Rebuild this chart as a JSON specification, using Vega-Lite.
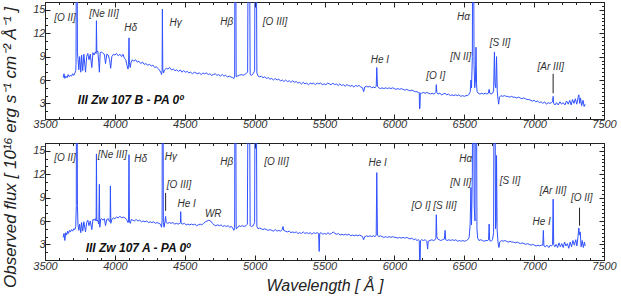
{
 "$schema": "https://vega.github.io/schema/vega-lite/v6.json",
 "background": "white",
 "padding": {"left": 2, "top": 1, "right": 0, "bottom": 0},
 "title": {"text": "Observed flux [ 10¹⁶ erg s⁻¹ cm⁻² Å⁻¹ ]", "orient": "left", "anchor": "middle", "font": "Liberation Sans", "fontStyle": "italic", "fontWeight": "normal", "fontSize": 17, "color": "#222", "offset": 12},
 "spacing": 10,
 "datasets": {
  "specB": [
   {"w":3630,"f":6.3},{"w":3636,"f":6.8},{"w":3642,"f":6.2},{"w":3650,"f":6.5},{"w":3658,"f":6.3},{"w":3666,"f":6.7},{"w":3674,"f":6.4},{"w":3682,"f":6.6},{"w":3690,"f":6.5},{"w":3698,"f":6.8},{"w":3706,"f":6.6},{"w":3714,"f":6.9},{"w":3720,"f":7.2},{"w":3722,"f":8},{"w":3725,"f":30},{"w":3729,"f":30},{"w":3732,"f":9.5},
   {"w":3736,"f":8.8},{"w":3742,"f":7.3},{"w":3748,"f":9.0},{"w":3756,"f":7.0},{"w":3762,"f":9.2},{"w":3770,"f":7.2},{"w":3778,"f":9.3},{"w":3790,"f":7.0},{"w":3798,"f":9.0},{"w":3806,"f":9.4},{"w":3815,"f":8.6},{"w":3824,"f":9.3},{"w":3835,"f":7.6},{"w":3843,"f":9.5},{"w":3852,"f":9.2},{"w":3860,"f":9.6},{"w":3866,"f":9.4},{"w":3868,"f":13.6},{"w":3871,"f":9.6},{"w":3878,"f":9.7},{"w":3885,"f":8.2},{"w":3889,"f":7.0},{"w":3895,"f":9.5},{"w":3905,"f":9.6},{"w":3915,"f":9.4},{"w":3925,"f":9.3},{"w":3933,"f":8.1},{"w":3942,"f":9.3},{"w":3952,"f":9.2},{"w":3962,"f":8.6},{"w":3970,"f":7.5},{"w":3978,"f":9.0},{"w":3990,"f":9.3},{"w":4000,"f":9.2},{"w":4012,"f":9.4},{"w":4024,"f":9.1},{"w":4036,"f":9.3},{"w":4048,"f":9.0},{"w":4058,"f":9.3},{"w":4068,"f":8.8},{"w":4078,"f":8.6},{"w":4088,"f":7.8},{"w":4094,"f":7.4},{"w":4098,"f":8.0},{"w":4101,"f":11.4},{"w":4104,"f":8.2},{"w":4110,"f":7.6},{"w":4116,"f":8.3},{"w":4125,"f":8.6},{"w":4135,"f":8.4},{"w":4148,"f":8.6},{"w":4160,"f":8.3},{"w":4172,"f":8.4},{"w":4185,"f":8.1},{"w":4198,"f":8.3},{"w":4210,"f":8.0},{"w":4222,"f":8.1},{"w":4235,"f":7.9},{"w":4248,"f":8.0},{"w":4260,"f":7.8},{"w":4272,"f":7.9},{"w":4285,"f":7.6},{"w":4296,"f":7.7},{"w":4308,"f":7.5},{"w":4318,"f":7.3},{"w":4328,"f":7.0},{"w":4334,"f":6.7},{"w":4338,"f":7.2},{"w":4340,"f":15.1},{"w":4343,"f":7.4},{"w":4348,"f":6.9},{"w":4356,"f":7.3},{"w":4368,"f":7.5},{"w":4380,"f":7.4},{"w":4392,"f":7.6},{"w":4405,"f":7.3},{"w":4418,"f":7.4},{"w":4430,"f":7.2},{"w":4442,"f":7.3},{"w":4455,"f":7.1},{"w":4468,"f":7.3},{"w":4480,"f":7.0},{"w":4492,"f":7.2},{"w":4505,"f":7.0},{"w":4518,"f":7.1},{"w":4530,"f":6.9},{"w":4542,"f":7.0},{"w":4555,"f":6.8},{"w":4568,"f":7.0},{"w":4580,"f":6.9},{"w":4592,"f":6.8},{"w":4605,"f":6.9},{"w":4618,"f":6.7},{"w":4630,"f":6.9},{"w":4642,"f":6.8},{"w":4655,"f":6.9},{"w":4668,"f":6.7},{"w":4680,"f":6.8},{"w":4692,"f":6.6},{"w":4705,"f":6.7},{"w":4718,"f":6.8},{"w":4730,"f":6.6},{"w":4742,"f":6.7},{"w":4755,"f":6.5},{"w":4768,"f":6.7},{"w":4780,"f":6.5},{"w":4792,"f":6.6},{"w":4805,"f":6.4},{"w":4818,"f":6.5},{"w":4830,"f":6.4},{"w":4842,"f":6.3},{"w":4852,"f":6.2},{"w":4857,"f":6.5},{"w":4860,"f":30},{"w":4864,"f":30},{"w":4868,"f":6.4},{"w":4876,"f":6.5},{"w":4890,"f":6.6},{"w":4905,"f":6.7},{"w":4918,"f":6.6},{"w":4930,"f":6.7},{"w":4942,"f":6.9},{"w":4950,"f":7.0},{"w":4955,"f":30},{"w":4962,"f":30},{"w":4968,"f":6.7},{"w":4978,"f":6.6},{"w":4990,"f":6.8},{"w":5000,"f":7.2},{"w":5004,"f":30},{"w":5011,"f":30},{"w":5016,"f":6.9},{"w":5025,"f":6.5},{"w":5036,"f":6.4},{"w":5048,"f":6.5},{"w":5060,"f":6.3},{"w":5072,"f":6.4},{"w":5085,"f":6.2},{"w":5098,"f":6.3},{"w":5110,"f":6.1},{"w":5122,"f":6.2},{"w":5135,"f":6.0},{"w":5148,"f":6.2},{"w":5160,"f":6.0},{"w":5172,"f":6.1},{"w":5185,"f":5.9},{"w":5198,"f":6.0},{"w":5210,"f":5.8},{"w":5222,"f":6.0},{"w":5235,"f":5.8},{"w":5248,"f":5.9},{"w":5260,"f":5.7},{"w":5272,"f":5.9},{"w":5285,"f":5.7},{"w":5298,"f":5.8},{"w":5310,"f":5.6},{"w":5322,"f":5.7},{"w":5335,"f":5.5},{"w":5348,"f":5.7},{"w":5360,"f":5.5},{"w":5372,"f":5.6},{"w":5385,"f":5.4},{"w":5398,"f":5.6},{"w":5410,"f":5.5},{"w":5422,"f":5.6},{"w":5435,"f":5.4},{"w":5448,"f":5.6},{"w":5460,"f":5.5},{"w":5472,"f":5.6},{"w":5485,"f":5.4},{"w":5498,"f":5.5},{"w":5510,"f":5.4},{"w":5522,"f":5.6},{"w":5535,"f":5.5},{"w":5548,"f":5.4},{"w":5560,"f":5.6},{"w":5572,"f":5.4},{"w":5585,"f":5.5},{"w":5598,"f":5.3},{"w":5610,"f":5.5},{"w":5622,"f":5.3},{"w":5635,"f":5.4},{"w":5648,"f":5.2},{"w":5660,"f":5.4},{"w":5672,"f":5.3},{"w":5685,"f":5.2},{"w":5698,"f":5.3},{"w":5710,"f":5.1},{"w":5722,"f":5.3},{"w":5735,"f":5.2},{"w":5748,"f":5.3},{"w":5760,"f":5.1},{"w":5772,"f":5.0},{"w":5780,"f":4.5},{"w":5788,"f":5.1},{"w":5800,"f":5.2},{"w":5812,"f":5.1},{"w":5825,"f":5.2},{"w":5838,"f":5.0},{"w":5850,"f":5.1},{"w":5862,"f":5.0},{"w":5870,"f":5.2},{"w":5874,"f":7.6},{"w":5879,"f":5.2},{"w":5888,"f":5.0},{"w":5900,"f":4.9},{"w":5912,"f":5.0},{"w":5925,"f":4.9},{"w":5938,"f":5.0},{"w":5950,"f":4.9},{"w":5962,"f":5.0},{"w":5975,"f":4.9},{"w":5988,"f":5.0},{"w":6000,"f":4.9},{"w":6012,"f":4.8},{"w":6025,"f":4.9},{"w":6038,"f":4.8},{"w":6050,"f":4.9},{"w":6062,"f":4.8},{"w":6075,"f":4.7},{"w":6088,"f":4.8},{"w":6100,"f":4.7},{"w":6112,"f":4.6},{"w":6125,"f":4.7},{"w":6138,"f":4.6},{"w":6150,"f":4.5},{"w":6162,"f":4.5},{"w":6172,"f":4.4},{"w":6178,"f":4.4},{"w":6180,"f":2.3},{"w":6183,"f":2.4},{"w":6186,"f":4.3},{"w":6195,"f":4.3},{"w":6208,"f":4.4},{"w":6220,"f":4.3},{"w":6232,"f":4.4},{"w":6245,"f":4.3},{"w":6258,"f":4.2},{"w":6270,"f":4.3},{"w":6282,"f":4.2},{"w":6292,"f":4.3},{"w":6297,"f":4.4},{"w":6300,"f":5.4},{"w":6304,"f":4.4},{"w":6312,"f":4.2},{"w":6325,"f":4.3},{"w":6338,"f":4.1},{"w":6350,"f":4.2},{"w":6362,"f":4.3},{"w":6375,"f":4.1},{"w":6388,"f":4.2},{"w":6400,"f":4.0},{"w":6412,"f":4.1},{"w":6425,"f":4.0},{"w":6438,"f":4.1},{"w":6450,"f":4.0},{"w":6462,"f":4.1},{"w":6475,"f":3.9},{"w":6488,"f":4.0},{"w":6500,"f":3.9},{"w":6512,"f":4.0},{"w":6525,"f":4.0},{"w":6535,"f":4.2},{"w":6543,"f":4.5},{"w":6548,"f":6.0},{"w":6552,"f":5.0},{"w":6558,"f":9},{"w":6561,"f":30},{"w":6566,"f":30},{"w":6570,"f":8},{"w":6575,"f":5.0},{"w":6580,"f":6},{"w":6584,"f":10.2},{"w":6588,"f":5.5},{"w":6592,"f":4.5},{"w":6600,"f":4.3},{"w":6612,"f":4.2},{"w":6625,"f":4.3},{"w":6638,"f":4.2},{"w":6650,"f":4.3},{"w":6662,"f":4.2},{"w":6672,"f":4.3},{"w":6678,"f":4.8},{"w":6683,"f":4.3},{"w":6692,"f":4.2},{"w":6702,"f":4.3},{"w":6710,"f":4.6},{"w":6716,"f":9.6},{"w":6720,"f":5.5},{"w":6726,"f":5.0},{"w":6731,"f":9.0},{"w":6736,"f":4.6},{"w":6742,"f":3.5},{"w":6746,"f":2.9},{"w":6752,"f":3.8},{"w":6762,"f":4.0},{"w":6775,"f":3.9},{"w":6788,"f":4.0},{"w":6800,"f":3.9},{"w":6812,"f":3.9},{"w":6825,"f":3.8},{"w":6838,"f":3.9},{"w":6850,"f":3.8},{"w":6862,"f":3.8},{"w":6875,"f":3.7},{"w":6888,"f":3.8},{"w":6900,"f":3.7},{"w":6912,"f":3.6},{"w":6925,"f":3.7},{"w":6938,"f":3.6},{"w":6950,"f":3.5},{"w":6962,"f":3.5},{"w":6975,"f":3.4},{"w":6988,"f":3.3},{"w":7000,"f":3.4},{"w":7012,"f":3.2},{"w":7025,"f":3.3},{"w":7038,"f":3.1},{"w":7050,"f":3.2},{"w":7062,"f":3.0},{"w":7075,"f":3.2},{"w":7088,"f":2.9},{"w":7100,"f":3.1},{"w":7112,"f":3.0},{"w":7124,"f":3.1},{"w":7132,"f":3.2},{"w":7136,"f":3.9},{"w":7140,"f":3.0},{"w":7150,"f":2.8},{"w":7160,"f":3.1},{"w":7172,"f":2.8},{"w":7185,"f":3.2},{"w":7196,"f":2.9},{"w":7208,"f":3.1},{"w":7220,"f":2.8},{"w":7232,"f":3.3},{"w":7244,"f":2.9},{"w":7255,"f":3.4},{"w":7265,"f":2.8},{"w":7275,"f":3.5},{"w":7285,"f":3.0},{"w":7295,"f":3.6},{"w":7305,"f":2.9},{"w":7315,"f":3.8},{"w":7320,"f":4.1},{"w":7326,"f":3.0},{"w":7332,"f":3.7},{"w":7340,"f":2.7},{"w":7350,"f":3.4},{"w":7358,"f":2.6},{"w":7365,"f":2.9}
  ],
  "specA": [
   {"w":3630,"f":3.9},{"w":3636,"f":4.4},{"w":3642,"f":3.5},{"w":3648,"f":4.5},{"w":3655,"f":4.2},{"w":3662,"f":4.7},{"w":3668,"f":4.4},{"w":3675,"f":4.8},{"w":3682,"f":4.6},{"w":3690,"f":4.9},{"w":3698,"f":4.7},{"w":3706,"f":5.0},{"w":3714,"f":4.9},{"w":3720,"f":5.3},{"w":3724,"f":8},{"w":3725,"f":30},{"w":3729,"f":30},{"w":3732,"f":8},{"w":3736,"f":5.5},{"w":3742,"f":4.8},{"w":3748,"f":5.6},{"w":3756,"f":4.5},{"w":3762,"f":5.8},{"w":3770,"f":4.7},{"w":3778,"f":5.9},{"w":3790,"f":4.6},{"w":3798,"f":5.8},{"w":3806,"f":6.1},{"w":3815,"f":5.4},{"w":3824,"f":6.0},{"w":3835,"f":4.9},{"w":3843,"f":6.2},{"w":3852,"f":6.1},{"w":3860,"f":6.3},{"w":3866,"f":6.0},{"w":3868,"f":14.6},{"w":3871,"f":6.2},{"w":3878,"f":6.0},{"w":3885,"f":5.6},{"w":3889,"f":10.7},{"w":3892,"f":5.2},{"w":3898,"f":6.2},{"w":3906,"f":6.3},{"w":3915,"f":6.1},{"w":3925,"f":6.3},{"w":3933,"f":5.4},{"w":3942,"f":6.2},{"w":3952,"f":6.3},{"w":3962,"f":5.9},{"w":3966,"f":6.0},{"w":3968,"f":10.5},{"w":3971,"f":5.7},{"w":3978,"f":6.2},{"w":3990,"f":6.4},{"w":4000,"f":6.3},{"w":4012,"f":6.5},{"w":4024,"f":6.4},{"w":4036,"f":6.6},{"w":4048,"f":6.4},{"w":4060,"f":6.5},{"w":4072,"f":6.4},{"w":4084,"f":6.2},{"w":4094,"f":5.8},{"w":4098,"f":6.0},{"w":4101,"f":14.5},{"w":4104,"f":6.0},{"w":4110,"f":5.7},{"w":4118,"f":6.2},{"w":4128,"f":6.1},{"w":4140,"f":6.0},{"w":4152,"f":6.2},{"w":4165,"f":6.0},{"w":4178,"f":6.1},{"w":4190,"f":5.9},{"w":4202,"f":6.0},{"w":4215,"f":5.9},{"w":4228,"f":6.0},{"w":4240,"f":5.8},{"w":4252,"f":5.9},{"w":4265,"f":5.8},{"w":4278,"f":5.9},{"w":4290,"f":5.7},{"w":4302,"f":5.8},{"w":4315,"f":5.7},{"w":4326,"f":5.6},{"w":4334,"f":5.2},{"w":4338,"f":6.0},{"w":4340,"f":30},{"w":4344,"f":30},{"w":4347,"f":5.8},{"w":4352,"f":5.2},{"w":4358,"f":5.9},{"w":4363,"f":6.6},{"w":4367,"f":5.8},{"w":4378,"f":5.7},{"w":4390,"f":5.8},{"w":4402,"f":5.7},{"w":4415,"f":5.8},{"w":4428,"f":5.6},{"w":4440,"f":5.7},{"w":4452,"f":5.6},{"w":4465,"f":5.7},{"w":4469,"f":5.8},{"w":4471,"f":7.2},{"w":4474,"f":5.7},{"w":4485,"f":5.6},{"w":4498,"f":5.7},{"w":4510,"f":5.5},{"w":4522,"f":5.6},{"w":4535,"f":5.5},{"w":4548,"f":5.6},{"w":4560,"f":5.5},{"w":4572,"f":5.6},{"w":4585,"f":5.4},{"w":4598,"f":5.5},{"w":4610,"f":5.6},{"w":4622,"f":5.5},{"w":4635,"f":5.7},{"w":4648,"f":5.9},{"w":4660,"f":6.0},{"w":4672,"f":6.1},{"w":4685,"f":6.0},{"w":4698,"f":5.7},{"w":4710,"f":5.5},{"w":4722,"f":5.4},{"w":4735,"f":5.5},{"w":4748,"f":5.4},{"w":4760,"f":5.5},{"w":4772,"f":5.3},{"w":4785,"f":5.4},{"w":4798,"f":5.3},{"w":4810,"f":5.4},{"w":4822,"f":5.2},{"w":4835,"f":5.3},{"w":4846,"f":5.0},{"w":4852,"f":4.8},{"w":4857,"f":5.2},{"w":4860,"f":30},{"w":4864,"f":30},{"w":4868,"f":5.0},{"w":4876,"f":5.1},{"w":4888,"f":5.4},{"w":4900,"f":5.3},{"w":4912,"f":5.4},{"w":4925,"f":5.3},{"w":4938,"f":5.4},{"w":4948,"f":5.6},{"w":4955,"f":30},{"w":4962,"f":30},{"w":4968,"f":5.4},{"w":4978,"f":5.3},{"w":4990,"f":5.4},{"w":5000,"f":5.8},{"w":5004,"f":30},{"w":5011,"f":30},{"w":5016,"f":5.3},{"w":5025,"f":5.0},{"w":5036,"f":5.1},{"w":5048,"f":5.0},{"w":5060,"f":4.9},{"w":5072,"f":5.0},{"w":5085,"f":4.9},{"w":5098,"f":4.8},{"w":5110,"f":4.9},{"w":5122,"f":4.8},{"w":5135,"f":4.7},{"w":5148,"f":4.9},{"w":5160,"f":4.7},{"w":5172,"f":4.8},{"w":5185,"f":4.7},{"w":5198,"f":4.9},{"w":5203,"f":5.3},{"w":5208,"f":4.8},{"w":5220,"f":4.7},{"w":5235,"f":4.6},{"w":5248,"f":4.7},{"w":5260,"f":4.5},{"w":5272,"f":4.6},{"w":5285,"f":4.5},{"w":5298,"f":4.6},{"w":5310,"f":4.4},{"w":5322,"f":4.5},{"w":5335,"f":4.4},{"w":5348,"f":4.6},{"w":5360,"f":4.4},{"w":5372,"f":4.5},{"w":5385,"f":4.4},{"w":5398,"f":4.5},{"w":5410,"f":4.3},{"w":5422,"f":4.5},{"w":5435,"f":4.4},{"w":5448,"f":4.5},{"w":5458,"f":4.4},{"w":5462,"f":2.1},{"w":5466,"f":4.4},{"w":5475,"f":4.5},{"w":5488,"f":4.3},{"w":5500,"f":4.4},{"w":5512,"f":4.3},{"w":5525,"f":4.5},{"w":5538,"f":4.3},{"w":5550,"f":4.4},{"w":5562,"f":4.6},{"w":5575,"f":4.4},{"w":5588,"f":4.3},{"w":5600,"f":4.4},{"w":5612,"f":4.2},{"w":5625,"f":4.3},{"w":5638,"f":4.2},{"w":5650,"f":4.3},{"w":5662,"f":4.2},{"w":5675,"f":4.3},{"w":5688,"f":4.1},{"w":5700,"f":4.2},{"w":5712,"f":4.1},{"w":5725,"f":4.2},{"w":5738,"f":4.1},{"w":5750,"f":4.2},{"w":5762,"f":4.1},{"w":5772,"f":4.0},{"w":5780,"f":3.6},{"w":5788,"f":4.0},{"w":5800,"f":4.1},{"w":5812,"f":4.0},{"w":5825,"f":4.1},{"w":5838,"f":4.0},{"w":5850,"f":4.1},{"w":5862,"f":4.0},{"w":5870,"f":4.2},{"w":5874,"f":12.2},{"w":5879,"f":4.2},{"w":5888,"f":4.0},{"w":5900,"f":4.1},{"w":5912,"f":4.0},{"w":5925,"f":3.9},{"w":5938,"f":4.0},{"w":5950,"f":3.9},{"w":5962,"f":4.0},{"w":5975,"f":3.9},{"w":5988,"f":4.0},{"w":6000,"f":3.9},{"w":6012,"f":3.9},{"w":6025,"f":3.8},{"w":6038,"f":3.9},{"w":6050,"f":3.8},{"w":6062,"f":3.9},{"w":6075,"f":3.8},{"w":6088,"f":3.9},{"w":6100,"f":3.8},{"w":6112,"f":3.7},{"w":6125,"f":3.8},{"w":6138,"f":3.6},{"w":6150,"f":3.7},{"w":6162,"f":3.5},{"w":6172,"f":3.6},{"w":6178,"f":3.5},{"w":6181,"f":0.5},{"w":6184,"f":0.5},{"w":6187,"f":3.5},{"w":6195,"f":3.6},{"w":6208,"f":3.5},{"w":6220,"f":3.6},{"w":6232,"f":3.4},{"w":6238,"f":2.4},{"w":6242,"f":3.4},{"w":6255,"f":3.5},{"w":6268,"f":3.6},{"w":6280,"f":3.5},{"w":6292,"f":3.6},{"w":6297,"f":3.8},{"w":6300,"f":6.8},{"w":6304,"f":4.0},{"w":6310,"f":3.7},{"w":6320,"f":3.6},{"w":6332,"f":3.5},{"w":6345,"f":3.6},{"w":6358,"f":3.7},{"w":6363,"f":4.8},{"w":6367,"f":3.6},{"w":6378,"f":3.5},{"w":6390,"f":3.6},{"w":6402,"f":3.5},{"w":6415,"f":3.6},{"w":6428,"f":3.5},{"w":6440,"f":3.6},{"w":6452,"f":3.4},{"w":6465,"f":3.5},{"w":6478,"f":3.4},{"w":6490,"f":3.5},{"w":6502,"f":3.4},{"w":6515,"f":3.5},{"w":6525,"f":3.6},{"w":6535,"f":3.9},{"w":6542,"f":5.5},{"w":6548,"f":10.3},{"w":6552,"f":5.5},{"w":6558,"f":12},{"w":6561,"f":30},{"w":6566,"f":30},{"w":6571,"f":8},{"w":6577,"f":6},{"w":6581,"f":30},{"w":6586,"f":30},{"w":6591,"f":5},{"w":6596,"f":3.8},{"w":6605,"f":3.5},{"w":6618,"f":3.6},{"w":6630,"f":3.5},{"w":6642,"f":3.4},{"w":6655,"f":3.5},{"w":6668,"f":3.5},{"w":6674,"f":3.6},{"w":6678,"f":5.6},{"w":6682,"f":3.5},{"w":6692,"f":3.4},{"w":6702,"f":3.6},{"w":6710,"f":4.5},{"w":6714,"f":30},{"w":6719,"f":30},{"w":6724,"f":5},{"w":6728,"f":6},{"w":6731,"f":14.4},{"w":6735,"f":5},{"w":6742,"f":3.2},{"w":6748,"f":2.6},{"w":6754,"f":3.3},{"w":6765,"f":3.5},{"w":6778,"f":3.4},{"w":6790,"f":3.5},{"w":6802,"f":3.4},{"w":6815,"f":3.3},{"w":6828,"f":3.4},{"w":6840,"f":3.3},{"w":6852,"f":3.3},{"w":6865,"f":3.2},{"w":6878,"f":3.3},{"w":6890,"f":3.2},{"w":6902,"f":3.1},{"w":6915,"f":3.2},{"w":6928,"f":3.1},{"w":6940,"f":3.0},{"w":6952,"f":3.1},{"w":6965,"f":3.0},{"w":6978,"f":2.9},{"w":6990,"f":3.0},{"w":7002,"f":2.9},{"w":7015,"f":2.8},{"w":7028,"f":2.9},{"w":7040,"f":2.8},{"w":7052,"f":2.9},{"w":7062,"f":2.9},{"w":7066,"f":4.8},{"w":7070,"f":2.8},{"w":7080,"f":2.7},{"w":7092,"f":2.9},{"w":7105,"f":2.6},{"w":7115,"f":2.9},{"w":7125,"f":2.8},{"w":7132,"f":3.0},{"w":7136,"f":8.8},{"w":7140,"f":3.0},{"w":7148,"f":2.7},{"w":7158,"f":3.0},{"w":7168,"f":2.6},{"w":7178,"f":3.2},{"w":7188,"f":2.7},{"w":7198,"f":3.1},{"w":7208,"f":2.6},{"w":7218,"f":3.3},{"w":7228,"f":2.8},{"w":7238,"f":3.1},{"w":7248,"f":2.5},{"w":7258,"f":3.3},{"w":7268,"f":2.7},{"w":7278,"f":3.5},{"w":7288,"f":2.9},{"w":7298,"f":3.6},{"w":7306,"f":2.8},{"w":7314,"f":4.0},{"w":7320,"f":5.1},{"w":7324,"f":4.2},{"w":7330,"f":4.6},{"w":7336,"f":2.7},{"w":7344,"f":3.5},{"w":7352,"f":2.6},{"w":7360,"f":3.3},{"w":7365,"f":2.8}
  ],
  "annB": [
   {"w":3643,"f":14.0,"label":"[O II]"},{"w":3922,"f":14.5,"label":"[Ne III]"},{"w":4113,"f":12.7,"label":"Hδ"},{"w":4435,"f":13.3,"label":"Hγ"},{"w":4800,"f":13.4,"label":"Hβ"},{"w":5146,"f":13.4,"label":"[O III]"},{"w":5897,"f":8.6,"label":"He I"},{"w":6296,"f":6.45,"label":"[O I]"},{"w":6475,"f":9.0,"label":"[N II]"},{"w":6494,"f":14.1,"label":"Hα"},{"w":6756,"f":10.7,"label":"[S II]"},{"w":7119,"f":7.7,"label":"[Ar III]"}
  ],
  "annA": [
   {"w":3643,"f":14.06,"label":"[O II]"},{"w":3982,"f":14.5,"label":"[Ne III]"},{"w":4185,"f":13.9,"label":"Hδ"},{"w":4400,"f":14.2,"label":"Hγ"},{"w":4459,"f":10.6,"label":"[O III]"},{"w":4514,"f":8.2,"label":"He I"},{"w":4704,"f":6.9,"label":"WR"},{"w":4800,"f":13.6,"label":"Hβ"},{"w":5156,"f":13.6,"label":"[O III]"},{"w":5880,"f":13.5,"label":"He I"},{"w":6284,"f":7.9,"label":"[O I] [S III]"},{"w":6510,"f":13.9,"label":"Hα"},{"w":6475,"f":10.9,"label":"[N II]"},{"w":6827,"f":11.1,"label":"[S II]"},{"w":7135,"f":9.9,"label":"[Ar III]"},{"w":7054,"f":5.9,"label":"He I"},{"w":7341,"f":8.9,"label":"[O II]"}
  ],
  "rulesB": [{"w":7136,"f":4.3,"f2":6.8}],
  "rulesA": [{"w":4363,"f":7.3,"f2":9.6},{"w":7325,"f":5.4,"f2":7.7}],
  "idB": [{"w":4113,"f":3.4,"label":"III Zw 107 B - PA 0º"}],
  "idA": [{"w":4166,"f":2.5,"label":"III Zw 107 A - PA 0º"}]
 },
 "vconcat": [
  {
   "width": 559, "height": 117,
   "layer": [
    {"data": {"name": "specB"}, "mark": {"type": "line", "color": "#2f50ff", "strokeWidth": 1, "clip": true},
     "encoding": {
      "x": {"field": "w", "type": "quantitative", "scale": {"domain": [3500, 7500], "nice": false, "zero": false},
       "axis": {"orient": "bottom", "title": null, "format": "d", "values": [3500,3600,3700,3800,3900,4000,4100,4200,4300,4400,4500,4600,4700,4800,4900,5000,5100,5200,5300,5400,5500,5600,5700,5800,5900,6000,6100,6200,6300,6400,6500,6600,6700,6800,6900,7000,7100,7200,7300,7400,7500],
        "tickSize": {"condition": {"test": "datum.value % 500 === 0", "value": -5}, "value": -2.5},
        "labelExpr": "datum.value % 500 === 0 ? datum.label : ''", "labelPadding": 4}},
      "y": {"field": "f", "type": "quantitative", "scale": {"domain": [1, 16], "nice": false, "zero": false},
       "axis": {"orient": "left", "title": null, "format": "d", "minExtent": 0, "values": [1,1.5,2,2.5,3,3.5,4,4.5,5,5.5,6,6.5,7,7.5,8,8.5,9,9.5,10,10.5,11,11.5,12,12.5,13,13.5,14,14.5,15],
        "tickSize": {"condition": {"test": "datum.value % 3 === 0", "value": -5}, "value": -2.5},
        "labelExpr": "datum.value % 3 === 0 ? datum.label : ''", "labelPadding": 5}}
     }},
    {"data": {"name": "annB"}, "mark": {"type": "text", "font": "Liberation Sans", "fontStyle": "italic", "fontSize": 10, "color": "#333"},
     "encoding": {
      "x": {"field": "w", "type": "quantitative", "scale": {"domain": [3500, 7500], "nice": false, "zero": false},
       "axis": {"orient": "top", "title": null, "labels": false, "values": [3500,3600,3700,3800,3900,4000,4100,4200,4300,4400,4500,4600,4700,4800,4900,5000,5100,5200,5300,5400,5500,5600,5700,5800,5900,6000,6100,6200,6300,6400,6500,6600,6700,6800,6900,7000,7100,7200,7300,7400,7500],
        "tickSize": {"condition": {"test": "datum.value % 500 === 0", "value": -5}, "value": -2.5}}},
      "y": {"field": "f", "type": "quantitative", "scale": {"domain": [1, 16], "nice": false, "zero": false},
       "axis": {"orient": "right", "title": null, "labels": false, "minExtent": 0, "values": [1,1.5,2,2.5,3,3.5,4,4.5,5,5.5,6,6.5,7,7.5,8,8.5,9,9.5,10,10.5,11,11.5,12,12.5,13,13.5,14,14.5,15,15.5,16],
        "tickSize": {"condition": {"test": "datum.value % 3 === 0", "value": -5}, "value": -2.5}}},
      "text": {"field": "label"}
     }},
    {"data": {"name": "rulesB"}, "mark": {"type": "rule", "color": "#222", "strokeWidth": 1},
     "encoding": {"x": {"field": "w", "type": "quantitative", "axis": null}, "y": {"field": "f", "type": "quantitative", "axis": null}, "y2": {"field": "f2"}}},
    {"data": {"name": "idB"}, "mark": {"type": "text", "font": "Liberation Sans", "fontStyle": "italic", "fontWeight": "bold", "fontSize": 12, "color": "#111"},
     "encoding": {"x": {"field": "w", "type": "quantitative", "axis": null}, "y": {"field": "f", "type": "quantitative", "axis": null}, "text": {"field": "label"}}}
   ],
   "resolve": {"axis": {"x": "independent", "y": "independent"}}
  },
  {
   "width": 559, "height": 117,
   "layer": [
    {"data": {"name": "specA"}, "mark": {"type": "line", "color": "#2f50ff", "strokeWidth": 1, "clip": true},
     "encoding": {
      "x": {"field": "w", "type": "quantitative", "scale": {"domain": [3500, 7500], "nice": false, "zero": false},
       "axis": {"orient": "bottom", "title": "Wavelength [ Å ]", "format": "d", "values": [3500,3600,3700,3800,3900,4000,4100,4200,4300,4400,4500,4600,4700,4800,4900,5000,5100,5200,5300,5400,5500,5600,5700,5800,5900,6000,6100,6200,6300,6400,6500,6600,6700,6800,6900,7000,7100,7200,7300,7400,7500],
        "tickSize": {"condition": {"test": "datum.value % 500 === 0", "value": -5}, "value": -2.5},
        "labelExpr": "datum.value % 500 === 0 ? datum.label : ''", "labelPadding": 5,
        "titleFont": "Liberation Sans", "titleFontStyle": "italic", "titleFontWeight": "normal", "titleFontSize": 16, "titleColor": "#222", "titlePadding": 4}},
      "y": {"field": "f", "type": "quantitative", "scale": {"domain": [1, 16], "nice": false, "zero": false},
       "axis": {"orient": "left", "title": null, "format": "d", "minExtent": 0, "values": [1,1.5,2,2.5,3,3.5,4,4.5,5,5.5,6,6.5,7,7.5,8,8.5,9,9.5,10,10.5,11,11.5,12,12.5,13,13.5,14,14.5,15],
        "tickSize": {"condition": {"test": "datum.value % 3 === 0", "value": -5}, "value": -2.5},
        "labelExpr": "datum.value % 3 === 0 ? datum.label : ''", "labelPadding": 5}}
     }},
    {"data": {"name": "annA"}, "mark": {"type": "text", "font": "Liberation Sans", "fontStyle": "italic", "fontSize": 10, "color": "#333"},
     "encoding": {
      "x": {"field": "w", "type": "quantitative", "scale": {"domain": [3500, 7500], "nice": false, "zero": false},
       "axis": {"orient": "top", "title": null, "labels": false, "values": [3500,3600,3700,3800,3900,4000,4100,4200,4300,4400,4500,4600,4700,4800,4900,5000,5100,5200,5300,5400,5500,5600,5700,5800,5900,6000,6100,6200,6300,6400,6500,6600,6700,6800,6900,7000,7100,7200,7300,7400,7500],
        "tickSize": {"condition": {"test": "datum.value % 500 === 0", "value": -5}, "value": -2.5}}},
      "y": {"field": "f", "type": "quantitative", "scale": {"domain": [1, 16], "nice": false, "zero": false},
       "axis": {"orient": "right", "title": null, "labels": false, "minExtent": 0, "values": [1,1.5,2,2.5,3,3.5,4,4.5,5,5.5,6,6.5,7,7.5,8,8.5,9,9.5,10,10.5,11,11.5,12,12.5,13,13.5,14,14.5,15,15.5,16],
        "tickSize": {"condition": {"test": "datum.value % 3 === 0", "value": -5}, "value": -2.5}}},
      "text": {"field": "label"}
     }},
    {"data": {"name": "rulesA"}, "mark": {"type": "rule", "color": "#222", "strokeWidth": 1},
     "encoding": {"x": {"field": "w", "type": "quantitative", "axis": null}, "y": {"field": "f", "type": "quantitative", "axis": null}, "y2": {"field": "f2"}}},
    {"data": {"name": "idA"}, "mark": {"type": "text", "font": "Liberation Sans", "fontStyle": "italic", "fontWeight": "bold", "fontSize": 12, "color": "#111"},
     "encoding": {"x": {"field": "w", "type": "quantitative", "axis": null}, "y": {"field": "f", "type": "quantitative", "axis": null}, "text": {"field": "label"}}}
   ],
   "resolve": {"axis": {"x": "independent", "y": "independent"}}
  }
 ],
 "config": {
  "view": {"stroke": "#222", "strokeWidth": 1},
  "axis": {"grid": false, "domainColor": "#222", "domainWidth": 1, "tickColor": "#222", "tickWidth": 1, "labelFont": "Liberation Sans", "labelFontStyle": "italic", "labelFontSize": 11, "labelColor": "#333", "labelOverlap": false, "labelFlush": false}
 }
}
